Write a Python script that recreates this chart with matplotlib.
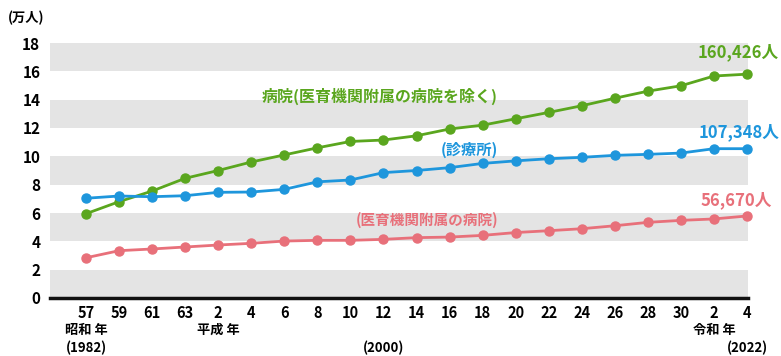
import matplotlib
matplotlib.use("Agg")
import matplotlib.pyplot as plt
import numpy as np

plt.rcParams['font.family'] = ['Noto Sans CJK JP', 'DejaVu Sans']

# 年（和暦の下2桁）
years = ["57", "59", "61", "63", "2", "4", "6", "8", "10", "12", "14",
         "16", "18", "20", "22", "24", "26", "28", "30", "2", "4"]
# 単位：万人
hospital = [5.95, 6.8, 7.55, 8.45, 9.0, 9.6, 10.1, 10.6, 11.05, 11.15, 11.45,
            11.93, 12.2, 12.65, 13.1, 13.57, 14.1, 14.6, 14.98, 15.67, 15.8]
clinic = [7.04, 7.2, 7.15, 7.22, 7.46, 7.48, 7.67, 8.2, 8.33, 8.85, 9.0,
          9.2, 9.5, 9.68, 9.83, 9.93, 10.07, 10.14, 10.23, 10.54, 10.54]
univ = [2.84, 3.34, 3.46, 3.6, 3.74, 3.86, 4.02, 4.07, 4.07, 4.14, 4.26,
        4.3, 4.42, 4.62, 4.75, 4.89, 5.1, 5.34, 5.48, 5.58, 5.79]
yticks = [0, 2, 4, 6, 8, 10, 12, 14, 16, 18]
last_labels = ["160,426人", "107,348人", "56,670人"]

GREEN = "#5aa61e"
BLUE = "#1e96dc"
RED = "#e8707a"

fig = plt.figure(figsize=(7.81, 3.56), dpi=100)
ax = fig.add_axes([50 / 781, 58 / 356, 698 / 781, 255 / 356])

x = np.arange(len(years))

# 背景の縞
for lo in range(0, 18, 4):
    ax.axhspan(lo, lo + 2, color="#e4e4e4", lw=0, zorder=0)

ax.plot(x, hospital, "-o", color=GREEN, lw=2, ms=6.5, clip_on=False, zorder=3)
ax.plot(x, clinic, "-o", color=BLUE, lw=2, ms=6.5, clip_on=False, zorder=3)
ax.plot(x, univ, "-o", color=RED, lw=2, ms=6.5, clip_on=False, zorder=3)

ax.set_xlim(-1.09, 20.03)
ax.set_ylim(0, 18)
ax.set_xticks(x)
ax.set_xticklabels(years, fontsize=10.5, fontweight="bold")
ax.set_yticks(yticks)
ax.set_yticklabels([str(v) for v in yticks], fontsize=11, fontweight="bold")
ax.tick_params(length=0, pad=5)
ax.tick_params(axis="y", pad=7)
for s in ["top", "right", "left"]:
    ax.spines[s].set_visible(False)
ax.spines["bottom"].set_linewidth(2.5)
ax.spines["bottom"].set_color("#111111")

# 単位
fig.text(8 / 781, 1 - 18 / 356, "(万人)", fontsize=9.5, fontweight="bold", va="center")

# 元号ラベル
tr = ax.get_xaxis_transform()
sub = dict(fontsize=9.5, fontweight="bold", ha="center", va="center", transform=tr)
ax.text(0, -0.125, "昭和 年", **sub)
ax.text(0, -0.195, "(1982)", **sub)
ax.text(4, -0.125, "平成 年", **sub)
ax.text(9, -0.195, "(2000)", **sub)
ax.text(19, -0.125, "令和 年", **sub)
ax.text(20, -0.195, "(2022)", **sub)

# 系列ラベル
ax.text(12.47, 14.2, "病院(医育機関附属の病院を除く)", color=GREEN, fontsize=11.5,
        fontweight="bold", va="center", ha="right")
ax.text(12.47, 10.45, "(診療所)", color=BLUE, fontsize=11, fontweight="bold",
        va="center", ha="right")
ax.text(12.47, 5.5, "(医育機関附属の病院)", color=RED, fontsize=10.5, fontweight="bold",
        va="center", ha="right")

# 最新値
fig.text(779 / 781, 1 - 52 / 356, last_labels[0], color=GREEN, fontsize=12,
         fontweight="bold", va="center", ha="right")
fig.text(779 / 781, 1 - 132 / 356, last_labels[1], color=BLUE, fontsize=12,
         fontweight="bold", va="center", ha="right")
fig.text(772 / 781, 1 - 200 / 356, last_labels[2], color=RED, fontsize=12,
         fontweight="bold", va="center", ha="right")

fig.savefig("out.png", dpi=100)
